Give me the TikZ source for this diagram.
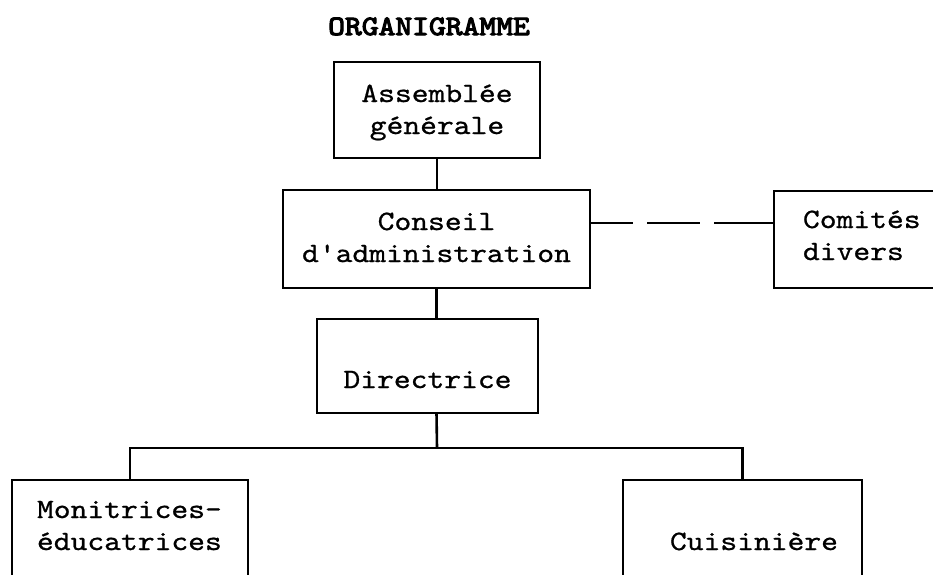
\documentclass[tikz,border=0pt]{standalone}
\usepackage{fontspec}
% typewriter face, widened to a 16.8pt pitch at 28pt
\newfontfamily\tw{lmmono10-regular.otf}[FakeStretch=1.143, FakeBold=0.8]
\newfontfamily\twbold{lmmono10-regular.otf}[FakeStretch=1.143, FakeBold=4]
\begin{document}
\begin{tikzpicture}[x=1pt,y=-1pt,
  orgbox/.style={draw, line width=2.6pt, rectangle, inner sep=0pt, outer sep=0pt,
    anchor=north west, font=\tw\fontsize{28}{32}\selectfont},
  link/.style={line width=2.6pt}]
  \useasboundingbox (0,0) rectangle (933,574);
  \fill[white] (0,0) rectangle (933,574);
  \clip (0,0) rectangle (933,574);

  % title
  \node[anchor=base, inner sep=0pt, font=\twbold\fontsize{28}{32}\selectfont] (title) at (429,35) {ORGANIGRAMME};

  % boxes: top-left corner, width, baseline offset and depth below the first baseline
  \node[orgbox, text width=206pt, align=center, text height=40pt, text depth=56pt]
    (ag) at (334,62) {Assemblée\\générale};
  \node[orgbox, text width=307pt, align=center, text height=40pt, text depth=58pt]
    (ca) at (283,190) {Conseil\\d'administration};
  \node[orgbox, inner xsep=29pt, text width=200pt, align=left, text height=37pt, text depth=60pt]
    (cd) at (774,191) {Comités\\divers};
  \node[orgbox, text width=221pt, align=center, text height=69pt, text depth=25pt]
    (dir) at (317,319) {Directrice};
  \node[orgbox, inner xsep=25pt, text width=186pt, align=left, text height=38pt, text depth=102pt]
    (mon) at (12,480) {Monitrices-\\éducatrices};
  \node[orgbox, inner xsep=24pt, text width=191pt, align=right, text height=70pt, text depth=70pt]
    (cui) at (623,480) {Cuisinière};

  % connectors
  \coordinate (bus) at (437,448);
  \draw[link] (ag.south) -- (ag.south |- ca.north);
  \draw[link] (ca.south) -- (ca.south |- dir.north);
  \draw[link, dash pattern=on 43pt off 14pt on 53pt off 14pt on 80pt]
    ([yshift=16pt]ca.east) -- ([yshift=16pt]ca.east -| cd.west);
  \draw[link] (ca.south |- dir.south) -- (bus);
  \draw[link] (mon.north) |- (bus) -| (cui.north);
\end{tikzpicture}
\end{document}
